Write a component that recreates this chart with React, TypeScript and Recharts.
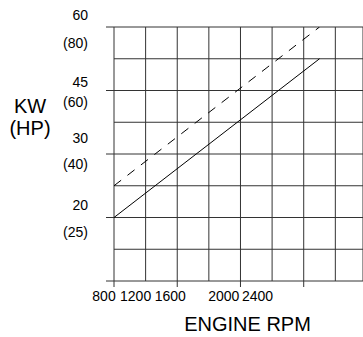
import React from 'react';
import { LineChart, Line, XAxis, YAxis, CartesianGrid } from 'recharts';

// engine speed (rpm) and power in grid rows (each row is one grid step)
const rpm = [800, 3400];
const ratedPower = [2, 7]; // solid line
const peakPower = [3, 8]; // dashed line

const xGrid = [800, 1200, 1600, 2000, 2400, 2800, 3200, 3600];
const xMajor = [800, 1600, 2400, 3200];
const xLabels = ['800', '1200', '1600', '2000', '2400'];

const yGrid = [0, 1, 2, 3, 4, 5, 6, 7, 8];
const yMajor = [0, 2, 4, 6, 8];
const kwLabels: Record<number, string> = { 2: '20', 4: '30', 6: '45', 8: '60' };
const hpLabels: Record<number, string> = { 2: '(25)', 4: '(40)', 6: '(60)', 8: '(80)' };

const data = rpm.map((r, i) => ({ rpm: r, rated: ratedPower[i], peak: peakPower[i] }));

const FONT = '"Liberation Sans", Arial, Helvetica, sans-serif';
const INK = '#000';
const GRID = '#333';
const PLOT_LEFT = 114;
const PLOT_BOTTOM = 281;

// label nudges, in px, relative to the grid line they belong to
const xLabelDx = [-10, -10, -7, 15, 17];
const kwDy: Record<number, number> = { 2: -8, 4: -11, 6: -4, 8: -7 };
const hpDy: Record<number, number> = { 2: 19, 4: 14.5, 6: 16, 8: 21 };

function XTick(props: any) {
  const { x, payload } = props;
  const idx = xGrid.indexOf(payload.value);
  const label = idx >= 0 && idx < xLabels.length ? xLabels[idx] : null;
  return (
    <g>
      {xMajor.includes(payload.value) && (
        <line x1={x} x2={x} y1={PLOT_BOTTOM} y2={PLOT_BOTTOM + 6} stroke={GRID} strokeWidth={1} />
      )}
      {label && (
        <text
          x={x + xLabelDx[idx]}
          y={301}
          textAnchor="middle"
          fontSize={14}
          fontFamily={FONT}
          fill={INK}
        >
          {label}
        </text>
      )}
    </g>
  );
}

function YTick(props: any) {
  const { y, payload } = props;
  const v = payload.value;
  return (
    <g>
      {yMajor.includes(v) && (
        <line x1={PLOT_LEFT - 8} x2={PLOT_LEFT} y1={y} y2={y} stroke={GRID} strokeWidth={1} />
      )}
      {kwLabels[v] && (
        <text x={88} y={y + kwDy[v]} textAnchor="end" fontSize={14} fontFamily={FONT} fill={INK}>
          {kwLabels[v]}
        </text>
      )}
      {hpLabels[v] && (
        <text x={88} y={y + hpDy[v]} textAnchor="end" fontSize={14} fontFamily={FONT} fill={INK}>
          {hpLabels[v]}
        </text>
      )}
    </g>
  );
}

function XTitle() {
  return (
    <text x={247.5} y={331} textAnchor="middle" fontSize={20} fontFamily={FONT} fill={INK}>
      ENGINE RPM
    </text>
  );
}

function YTitle() {
  return (
    <text textAnchor="middle" fontSize={20} fontFamily={FONT} fill={INK}>
      <tspan x={30} y={113}>KW</tspan>
      <tspan x={30} y={135}>(HP)</tspan>
    </text>
  );
}

export default function App() {
  return (
    <div style={{ position: 'absolute', left: 0, top: 0, width: 363, height: 337, background: '#fff' }}>
      <LineChart width={363} height={337} data={data} margin={{ top: 27, right: 0, bottom: 0, left: 0 }}>
        <CartesianGrid stroke={GRID} strokeWidth={1} />
        <XAxis
          dataKey="rpm"
          type="number"
          domain={[800, 3950]}
          ticks={xGrid}
          interval={0}
          height={56}
          axisLine={false}
          tickLine={false}
          tick={<XTick />}
          label={<XTitle />}
          allowDataOverflow
        />
        <YAxis
          type="number"
          domain={[0, 8]}
          ticks={yGrid}
          interval={0}
          width={114}
          axisLine={false}
          tickLine={false}
          tick={<YTick />}
          label={<YTitle />}
          allowDataOverflow
        />
        <Line
          dataKey="peak"
          stroke={INK}
          strokeWidth={1}
          strokeDasharray="9 8"
          dot={false}
          isAnimationActive={false}
        />
        <Line dataKey="rated" stroke={INK} strokeWidth={1} dot={false} isAnimationActive={false} />
      </LineChart>
    </div>
  );
}
